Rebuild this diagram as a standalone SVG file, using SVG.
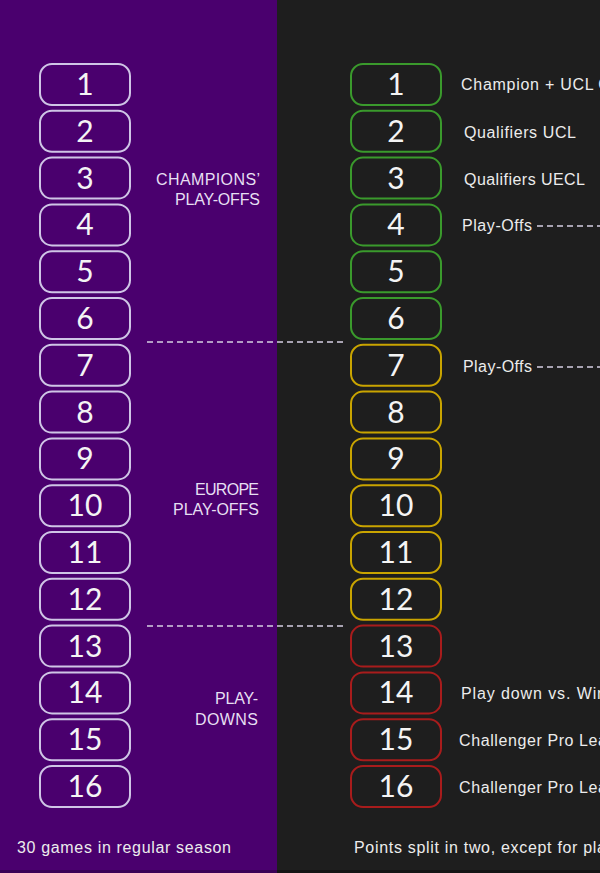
<svg xmlns="http://www.w3.org/2000/svg" width="600" height="873" viewBox="0 0 600 873">
<style>
.num{font-family:"Lato","Liberation Sans",sans-serif;font-weight:400;font-size:30px;fill:#f4f4f4;text-anchor:middle}
.lb{fill:none;stroke:#cfc5e6;stroke-width:2}
.g{fill:none;stroke:#3a9a2c;stroke-width:2}
.y{fill:none;stroke:#c9a400;stroke-width:2}
.r{fill:none;stroke:#a81c1c;stroke-width:2}
.sec{font-family:"Liberation Sans",sans-serif;font-size:16px;fill:#e6dff2;text-anchor:end}
.lab{font-family:"Liberation Sans",sans-serif;font-size:16px;fill:#ececec}
.dash{stroke:#d6cfe4;stroke-width:1.6;stroke-dasharray:6 4;fill:none}
</style>
<rect x="0" y="0" width="277" height="873" fill="#4a006e"/>
<rect x="277" y="0" width="323" height="873" fill="#1e1e1e"/>
<rect x="0" y="870" width="277" height="3" fill="#3a0056"/>
<rect x="277" y="870" width="323" height="3" fill="#141414"/>

<g id="connectors">
<line class="dash" x1="147" y1="342" x2="344" y2="342"/>
<line class="dash" x1="147" y1="626" x2="344" y2="626"/>
<line class="dash" x1="537" y1="226" x2="600" y2="226"/>
<line class="dash" x1="537" y1="367" x2="600" y2="367"/>
</g>

<g id="left-column">
<g id="l1"><rect class="lb" x="40" y="64" width="90" height="41" rx="12"/><text class="num" x="85" y="95">1</text></g>
<g id="l2"><rect class="lb" x="40" y="110.8" width="90" height="41" rx="12"/><text class="num" x="85" y="141.8">2</text></g>
<g id="l3"><rect class="lb" x="40" y="157.6" width="90" height="41" rx="12"/><text class="num" x="85" y="188.6">3</text></g>
<g id="l4"><rect class="lb" x="40" y="204.4" width="90" height="41" rx="12"/><text class="num" x="85" y="235.4">4</text></g>
<g id="l5"><rect class="lb" x="40" y="251.2" width="90" height="41" rx="12"/><text class="num" x="85" y="282.2">5</text></g>
<g id="l6"><rect class="lb" x="40" y="298" width="90" height="41" rx="12"/><text class="num" x="85" y="329">6</text></g>
<g id="l7"><rect class="lb" x="40" y="344.8" width="90" height="41" rx="12"/><text class="num" x="85" y="375.8">7</text></g>
<g id="l8"><rect class="lb" x="40" y="391.6" width="90" height="41" rx="12"/><text class="num" x="85" y="422.6">8</text></g>
<g id="l9"><rect class="lb" x="40" y="438.4" width="90" height="41" rx="12"/><text class="num" x="85" y="469.4">9</text></g>
<g id="l10"><rect class="lb" x="40" y="485.2" width="90" height="41" rx="12"/><text class="num" x="85" y="516.2">10</text></g>
<g id="l11"><rect class="lb" x="40" y="532" width="90" height="41" rx="12"/><text class="num" x="85" y="563">11</text></g>
<g id="l12"><rect class="lb" x="40" y="578.8" width="90" height="41" rx="12"/><text class="num" x="85" y="609.8">12</text></g>
<g id="l13"><rect class="lb" x="40" y="625.6" width="90" height="41" rx="12"/><text class="num" x="85" y="656.6">13</text></g>
<g id="l14"><rect class="lb" x="40" y="672.4" width="90" height="41" rx="12"/><text class="num" x="85" y="703.4">14</text></g>
<g id="l15"><rect class="lb" x="40" y="719.2" width="90" height="41" rx="12"/><text class="num" x="85" y="750.2">15</text></g>
<g id="l16"><rect class="lb" x="40" y="766" width="90" height="41" rx="12"/><text class="num" x="85" y="797">16</text></g>
</g>

<g id="section-labels">
<text class="sec" x="260" y="185" textLength="104">CHAMPIONS’</text>
<text class="sec" x="260" y="205" textLength="85">PLAY-OFFS</text>
<text class="sec" x="259" y="495" textLength="64">EUROPE</text>
<text class="sec" x="259" y="515" textLength="86">PLAY-OFFS</text>
<text class="sec" x="258" y="704" textLength="43">PLAY-</text>
<text class="sec" x="258" y="725" textLength="63">DOWNS</text>
</g>

<g id="right-column">
<g id="r1"><rect class="g" x="351" y="64" width="90" height="41" rx="12"/><text class="num" x="396" y="95">1</text></g>
<g id="r2"><rect class="g" x="351" y="110.8" width="90" height="41" rx="12"/><text class="num" x="396" y="141.8">2</text></g>
<g id="r3"><rect class="g" x="351" y="157.6" width="90" height="41" rx="12"/><text class="num" x="396" y="188.6">3</text></g>
<g id="r4"><rect class="g" x="351" y="204.4" width="90" height="41" rx="12"/><text class="num" x="396" y="235.4">4</text></g>
<g id="r5"><rect class="g" x="351" y="251.2" width="90" height="41" rx="12"/><text class="num" x="396" y="282.2">5</text></g>
<g id="r6"><rect class="g" x="351" y="298" width="90" height="41" rx="12"/><text class="num" x="396" y="329">6</text></g>
<g id="r7"><rect class="y" x="351" y="344.8" width="90" height="41" rx="12"/><text class="num" x="396" y="375.8">7</text></g>
<g id="r8"><rect class="y" x="351" y="391.6" width="90" height="41" rx="12"/><text class="num" x="396" y="422.6">8</text></g>
<g id="r9"><rect class="y" x="351" y="438.4" width="90" height="41" rx="12"/><text class="num" x="396" y="469.4">9</text></g>
<g id="r10"><rect class="y" x="351" y="485.2" width="90" height="41" rx="12"/><text class="num" x="396" y="516.2">10</text></g>
<g id="r11"><rect class="y" x="351" y="532" width="90" height="41" rx="12"/><text class="num" x="396" y="563">11</text></g>
<g id="r12"><rect class="y" x="351" y="578.8" width="90" height="41" rx="12"/><text class="num" x="396" y="609.8">12</text></g>
<g id="r13"><rect class="r" x="351" y="625.6" width="90" height="41" rx="12"/><text class="num" x="396" y="656.6">13</text></g>
<g id="r14"><rect class="r" x="351" y="672.4" width="90" height="41" rx="12"/><text class="num" x="396" y="703.4">14</text></g>
<g id="r15"><rect class="r" x="351" y="719.2" width="90" height="41" rx="12"/><text class="num" x="396" y="750.2">15</text></g>
<g id="r16"><rect class="r" x="351" y="766" width="90" height="41" rx="12"/><text class="num" x="396" y="797">16</text></g>
</g>

<g id="outcome-labels">
<text class="lab" x="461" y="90"><tspan textLength="132">Champion + UCL</tspan> G</text>
<text class="lab" x="464" y="138" textLength="112">Qualifiers UCL</text>
<text class="lab" x="464" y="185" textLength="121">Qualifiers UECL</text>
<text class="lab" x="462" y="231" textLength="70">Play-Offs</text>
<text class="lab" x="463" y="372" textLength="69">Play-Offs</text>
<text class="lab" x="461" y="699" textLength="145">Play down vs. Win</text>
<text class="lab" x="459" y="746" textLength="148">Challenger Pro Lea</text>
<text class="lab" x="459" y="793" textLength="148">Challenger Pro Lea</text>
</g>

<g id="footer">
<text class="lab" x="17" y="853" textLength="214" fill="#e6dff2">30 games in regular season</text>
<text class="lab" x="354" y="853" textLength="252">Points split in two, except for pla</text>
</g>
</svg>
